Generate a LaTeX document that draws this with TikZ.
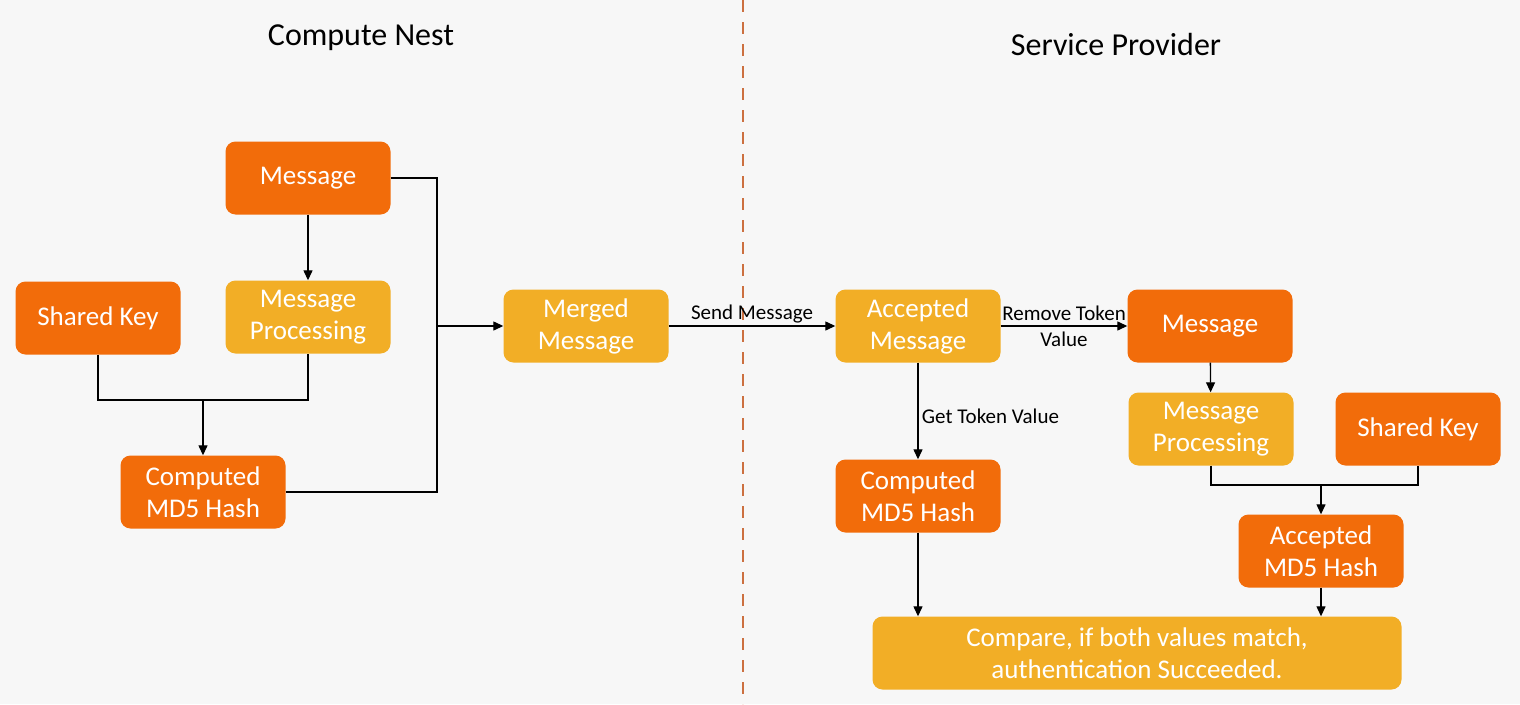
\documentclass[tikz,border=0pt]{standalone}
\usepackage{fontspec}
\setmainfont{Carlito}
\usepackage{tikz}
\usetikzlibrary{arrows.meta,positioning}
\definecolor{cnbg}{RGB}{247,247,247}
\definecolor{cndark}{RGB}{242,108,10}
\definecolor{cnlight}{RGB}{242,174,38}
\definecolor{cndash}{RGB}{204,112,64}
\tikzstyle{darkbox} = [rectangle, rounded corners=10pt, minimum width=165pt, minimum height=73pt, text centered, align=center, fill=cndark, text=white, font=\fontsize{27}{32}\selectfont]
\tikzstyle{lightbox} = [darkbox, fill=cnlight]
\tikzstyle{line} = [line width=1.3pt, black]
\tikzstyle{arrow} = [line, -{Triangle[length=10pt,width=9pt]}]
\tikzstyle{lbl} = [font=\fontsize{21}{25}\selectfont, text=black]

\begin{document}
\begin{tikzpicture}[x=1pt, y=-1pt]
\useasboundingbox (0,0) rectangle (1520,704);
\fill[cnbg] (0,0) rectangle (1520,704);

% Titles
\node (tleft) [font=\fontsize{32}{38}\selectfont] at (361,38) {Compute Nest};
\node (tright) [font=\fontsize{32}{38}\selectfont] at (1116,44) {Service Provider};

% Divider
\draw[cndash, line width=2pt, dash pattern=on 12pt off 10pt] (743,0) -- (743,704);

% Compute Nest side
\node (msgL) [darkbox] at (308,178) {Message};
\node (mpL) [lightbox] at (308,317) {Message\\Processing};
\node (skL) [darkbox] at (98,318) {Shared Key};
\node (cmL) [darkbox] at (203,492) {Computed\\MD5 Hash};
\node (mrg) [lightbox] at (586,326) {Merged\\Message};

% Service Provider side
\node (acc) [lightbox] at (918,326) {Accepted\\Message};
\node (msgR) [darkbox] at (1210,326) {Message};
\node (mpR) [lightbox] at (1211,429) {Message\\Processing};
\node (skR) [darkbox] at (1418,429) {Shared Key};
\node (cmR) [darkbox] at (918,496) {Computed\\MD5 Hash};
\node (amd) [darkbox] at (1321,551) {Accepted\\MD5 Hash};
\node (cmp) [lightbox, minimum width=529pt] at (1137,653) {Compare, if both values match,\\authentication Succeeded.};

% Junctions
\coordinate (jL) at (203,400);
\coordinate (busL) at (437,326);
\coordinate (jR) at (1321,485);

% Arrows, left
\draw[arrow] (msgL) -- (mpL);
\draw[line] (skL.south) |- (jL) -| (mpL.south);
\draw[arrow] (jL) -- (cmL.north);
\draw[line] (msgL.east) -| (busL);
\draw[line] (cmL.east) -| (busL);
\draw[arrow] (busL) -- (mrg.west);
\draw[arrow] (mrg) -- node[lbl, above, yshift=-1pt] {Send Message} (acc);

% Arrows, right
\draw[arrow] (acc) -- node[lbl, align=center] {Remove Token\\[1pt]Value} (msgR);
\draw[arrow] (acc) -- node[lbl, right, yshift=-5pt] {Get Token Value} (cmR);
\draw[arrow] (msgR) -- (mpR);
\draw[line] (mpR.south) |- (jR) -| (skR.south);
\draw[arrow] (jR) -- (amd.north);
\draw[arrow] (cmR.south) -- (cmR.south |- cmp.north);
\draw[arrow] (amd.south) -- (amd.south |- cmp.north);
\end{tikzpicture}
\end{document}
